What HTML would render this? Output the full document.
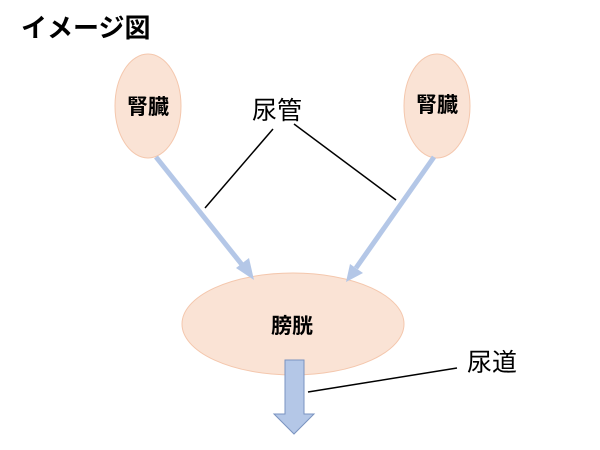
<!DOCTYPE html>
<html><head><meta charset="utf-8"><style>
html,body{margin:0;padding:0;background:#fff;width:600px;height:450px;overflow:hidden}
svg{display:block}
text{font-family:"Liberation Sans","Noto Sans CJK JP",sans-serif}
</style></head><body>
<svg width="600" height="450" viewBox="0 0 600 450">
<text x="21" y="37" font-size="26" font-weight="bold" fill="#000">イメージ図</text>
<ellipse cx="148" cy="106" rx="33" ry="52" fill="#fae3d5" stroke="#f4c7ad" stroke-width="1"/>
<ellipse cx="437" cy="106" rx="33" ry="52" fill="#fae3d5" stroke="#f4c7ad" stroke-width="1"/>
<ellipse cx="293" cy="324" rx="111" ry="51" fill="#fae3d5" stroke="#f4c7ad" stroke-width="1"/>
<text x="148" y="114" font-size="21" font-weight="bold" text-anchor="middle">腎臓</text>
<text x="437" y="112" font-size="21" font-weight="bold" text-anchor="middle">腎臓</text>
<text x="292" y="333" font-size="21" font-weight="bold" text-anchor="middle">膀胱</text>
<line x1="156" y1="157" x2="243" y2="266" stroke="#b4c7e7" stroke-width="5"/>
<polygon points="254,280 236,268 249,258" fill="#b4c7e7"/>
<line x1="434" y1="157" x2="356" y2="268" stroke="#b4c7e7" stroke-width="5"/>
<polygon points="346,282 350,264 363,273" fill="#b4c7e7"/>
<line x1="205" y1="208" x2="273" y2="129" stroke="#000" stroke-width="1.5"/>
<line x1="294" y1="124" x2="396" y2="200" stroke="#000" stroke-width="1.5"/>
<text x="252" y="119" font-size="25" fill="#000">尿管</text>
<polygon points="285,360 304,360 304,414 314,414 294,434 274,414 285,414" fill="#b4c7e7" stroke="#7a93c0" stroke-width="1"/>
<line x1="308" y1="392" x2="457" y2="368" stroke="#000" stroke-width="1.5"/>
<text x="467" y="371" font-size="25" fill="#000">尿道</text>
</svg>
</body></html>
